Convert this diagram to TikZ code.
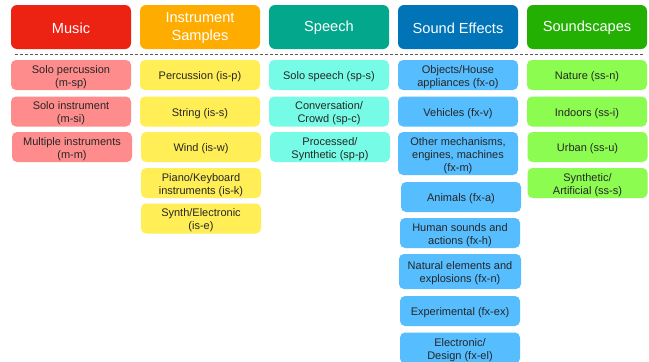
\documentclass[tikz,border=0pt]{standalone}
\usepackage{fontspec}
\setmainfont{Liberation Sans}
\definecolor{hMus}{HTML}{EC2213}
\definecolor{hIns}{HTML}{FFAC00}
\definecolor{hSpe}{HTML}{03A88C}
\definecolor{hFx}{HTML}{0174B8}
\definecolor{hSs}{HTML}{23B003}
\definecolor{sMus}{HTML}{FF8C8C}
\definecolor{sIns}{HTML}{FFEE55}
\definecolor{sSpe}{HTML}{76FCE6}
\definecolor{sFx}{HTML}{56BDFE}
\definecolor{sSs}{HTML}{8CFC50}
\tikzset{
  head/.style={rounded corners=6pt, minimum width=120pt, minimum height=44pt, inner sep=0pt},
  headtext/.style={inner sep=0pt, align=center, text=white, font=\fontsize{14.6}{17.7}\selectfont},
  sub/.style={rounded corners=5pt, minimum width=120pt, minimum height=30pt, inner sep=0pt},
  subtext/.style={inner sep=0pt, align=center, text=black!85, font=\fontsize{11}{13}\selectfont},
  mus/.style={sub, fill=sMus},
  ins/.style={sub, fill=sIns},
  spe/.style={sub, fill=sSpe},
  fx/.style={sub, fill=sFx},
  ss/.style={sub, fill=sSs},
  sep/.style={draw=black!65, line width=1pt, dash pattern=on 3pt off 2pt}
}
% #1 box style, #2 name, #3 centre, #4 text
\newcommand\hbx[4]{\node[head,#1] (#2) at (#3) {};
  \node[headtext] (#2-t) at ([yshift=-1pt]#2.center) {#4};}
\newcommand\sbx[4]{\node[#1] (#2) at (#3) {};
  \node[subtext] (#2-t) at ([yshift=-2pt]#2.center) {#4};}
\begin{document}
\begin{tikzpicture}[x=1pt,y=-1pt]
\useasboundingbox[fill=white] (0,0) rectangle (649,362);
% headers
\hbx{fill=hMus}{hm}{71,27}{Music}
\hbx{fill=hIns}{hi}{200,27}{Instrument\\Samples}
\hbx{fill=hSpe}{hs}{329,27}{Speech}
\hbx{fill=hFx}{hf}{458,27}{Sound Effects}
\hbx{fill=hSs}{hss}{587,27}{Soundscapes}
% separator
\coordinate (sepL) at (15,54);
\coordinate (sepR) at (644,54);
\draw[sep] (sepL) -- (sepR);
% music
\sbx{mus}{m1}{71,75}{Solo percussion\\(m-sp)}
\sbx{mus}{m2}{71,111.5}{Solo instrument\\(m-si)}
\sbx{mus}{m3}{72,147}{Multiple instruments\\(m-m)}
% instrument samples
\sbx{ins}{i1}{200,75}{Percussion (is-p)}
\sbx{ins}{i2}{200,111.5}{String (is-s)}
\sbx{ins}{i3}{201,147}{Wind (is-w)}
\sbx{ins}{i4}{201,183}{Piano/Keyboard\\instruments (is-k)}
\sbx{ins}{i5}{201,218.5}{Synth/Electronic\\(is-e)}
% speech
\sbx{spe}{s1}{329,75}{Solo speech (sp-s)}
\sbx{spe}{s2}{329,111.5}{Conversation/\\Crowd (sp-c)}
\sbx{spe}{s3}{330,147}{Processed/\\Synthetic (sp-p)}
% sound effects
\sbx{fx}{f1}{458,75}{Objects/House\\appliances (fx-o)}
\sbx{fx}{f2}{458,111.5}{Vehicles (fx-v)}
\sbx{fx, minimum height=43pt}{f3}{458,153.5}{Other mechanisms,\\engines, machines\\(fx-m)}
\sbx{fx}{f4}{461,197}{Animals (fx-a)}
\sbx{fx}{f5}{460,233}{Human sounds and\\actions (fx-h)}
\sbx{fx, minimum width=122pt, minimum height=35pt}{f6}{460,271.5}{Natural elements and\\explosions (fx-n)}
\sbx{fx}{f7}{460,311}{Experimental (fx-ex)}
\sbx{fx, minimum height=31pt}{f8}{460,348}{Electronic/\\Design (fx-el)}
% soundscapes
\sbx{ss}{c1}{587,75}{Nature (ss-n)}
\sbx{ss}{c2}{587,111.5}{Indoors (ss-i)}
\sbx{ss}{c3}{587.5,147}{Urban (ss-u)}
\sbx{ss}{c4}{587.5,183}{Synthetic/\\Artificial (ss-s)}
\end{tikzpicture}
\end{document}
